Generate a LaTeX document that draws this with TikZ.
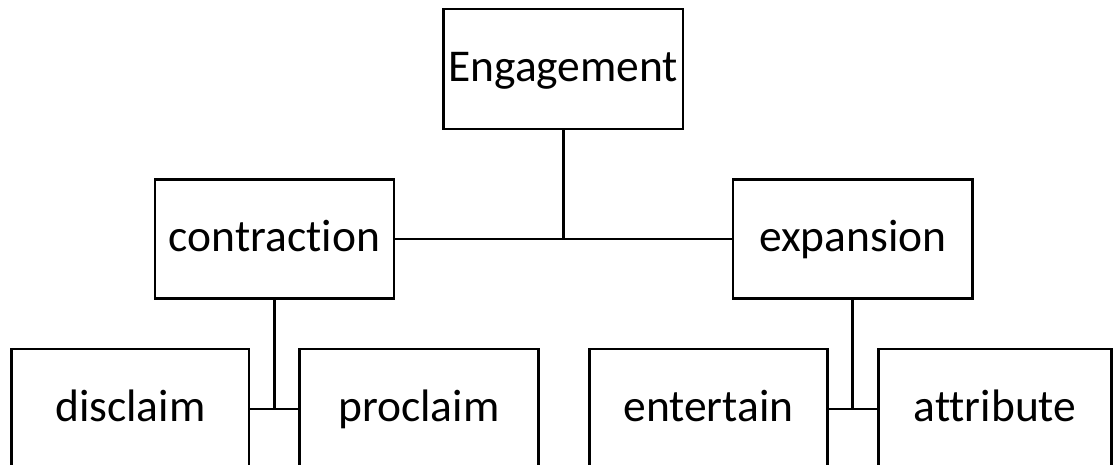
\documentclass[tikz,border=0pt]{standalone}
\usepackage{fontspec}
\setmainfont{Carlito}[Ligatures=NoCommon,RawFeature={-liga;-dlig;-clig}]
\begin{document}
\begin{tikzpicture}[x=1pt,y=1pt,
  box/.style={draw=black, line width=2.8pt, fill=white, inner sep=0pt,
    minimum height=120pt, text height=33pt, text depth=7.2pt,
    font=\fontsize{45.5}{54}\selectfont},
  conn/.style={draw=black, line width=2.8pt}]
\useasboundingbox (0,0) rectangle (1116,-465);
\clip (0,0) rectangle (1116,-465);
\node[box, minimum width=239.5pt] (eng) at (563.25,-69) {Engagement};
\node[box, minimum width=239pt, minimum height=119pt] (con) at (274.5,-239) {contraction};
\node[box, minimum width=239.7pt, minimum height=119pt] (exp) at (852.85,-239) {expansion};
\node[box, minimum width=237.3pt] (dis) at (130.35,-409) {disclaim};
\node[box, minimum width=239pt] (pro) at (418.8,-409) {proclaim};
\node[box, minimum width=238.4pt] (ent) at (708.5,-409) {entertain};
\node[box, minimum width=233.4pt] (att) at (995,-409) {attribute};
\draw[conn] (con.east) -- (exp.west);
\draw[conn] (eng.south) -- (eng.south |- con.east);
\draw[conn] (dis.east) -- (pro.west);
\draw[conn] (con.south) -- (con.south |- dis.east);
\draw[conn] (ent.east) -- (att.west);
\draw[conn] (exp.south) -- (exp.south |- ent.east);
\end{tikzpicture}
\end{document}
